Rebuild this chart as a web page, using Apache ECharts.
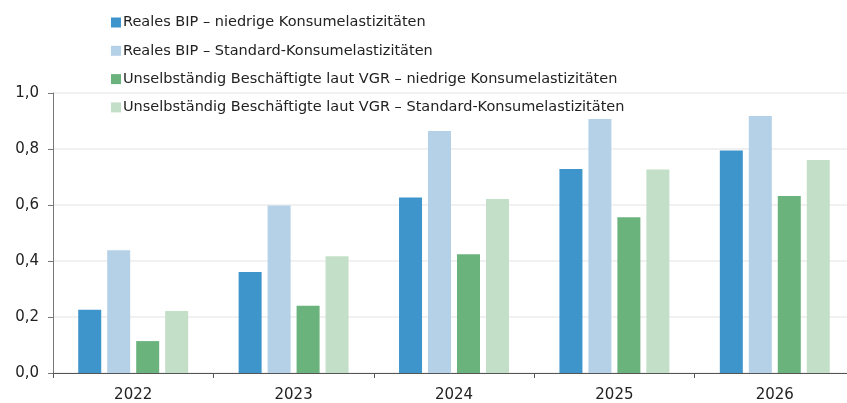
<!DOCTYPE html>
<html>
<head>
<meta charset="utf-8">
<script src="https://cdn.jsdelivr.net/npm/echarts@6/dist/echarts.min.js"></script>
<style>
  html, body { margin: 0; padding: 0; background: #fff; }
  #chart { width: 847px; height: 403px; }
</style>
</head>
<body>
<div id="chart"></div>
<script>
// Jahre
const years = ['2022', '2023', '2024', '2025', '2026']

const bipNiedrig = [0.226, 0.361, 0.627, 0.729, 0.795]
const bipStandard = [0.438, 0.598, 0.864, 0.907, 0.918]
const beschNiedrig = [0.114, 0.240, 0.424, 0.556, 0.632]
const beschStandard = [0.221, 0.417, 0.621, 0.727, 0.761]

const seriesNames = [
    'Reales BIP – niedrige Konsumelastizitäten',
    'Reales BIP – Standard-Konsumelastizitäten',
    'Unselbständig Beschäftigte laut VGR – niedrige Konsumelastizitäten',
    'Unselbständig Beschäftigte laut VGR – Standard-Konsumelastizitäten'
]
const colors = ['#3E95CB', '#B5D1E7', '#6BB37D', '#C3DFC8']

const fontFamily = 'DejaVu Sans'

const chart = echarts.init(document.getElementById('chart'))

const makeBar = (name, data, color) => ({
    name: name,
    type: 'bar',
    data: data,
    barWidth: 23,
    barGap: '26%',
    itemStyle: { color: color },
    z: 3
})

const option = {
    animation: false,
    textStyle: { fontFamily: fontFamily },
    legend: {
        orient: 'vertical',
        left: 111,
        top: 15,
        padding: 0,
        itemWidth: 10,
        itemHeight: 10,
        itemGap: 13.3,
        icon: 'rect',
        textStyle: { fontSize: 14.5, color: '#222', fontFamily: fontFamily, padding: [0, 0, 0, -3] },
        data: seriesNames
    },
    grid: {
        left: 53,
        top: 93,
        width: 802,
        bottom: 30,
        outerBoundsMode: 'none',
        containLabel: false
    },
    xAxis: {
        type: 'category',
        data: years,
        axisLine: { lineStyle: { color: '#555', width: 1 } },
        axisTick: { show: true, alignWithLabel: false, length: 5, lineStyle: { color: '#555' } },
        axisLabel: { fontSize: 15, color: '#222', margin: 15 }
    },
    yAxis: {
        type: 'value',
        min: 0,
        max: 1,
        interval: 0.2,
        axisLine: { show: true, lineStyle: { color: '#777', width: 1 } },
        axisTick: { show: true, length: 5, lineStyle: { color: '#777' } },
        splitLine: { lineStyle: { color: '#ececec', width: 1.5 } },
        axisLabel: {
            fontSize: 15,
            color: '#222',
            margin: 14,
            formatter: (v) => v.toFixed(1).replace('.', ',')
        }
    },
    series: [
        makeBar(seriesNames[0], bipNiedrig, colors[0]),
        makeBar(seriesNames[1], bipStandard, colors[1]),
        makeBar(seriesNames[2], beschNiedrig, colors[2]),
        makeBar(seriesNames[3], beschStandard, colors[3])
    ]
}

chart.setOption(option)
</script>
</body>
</html>
